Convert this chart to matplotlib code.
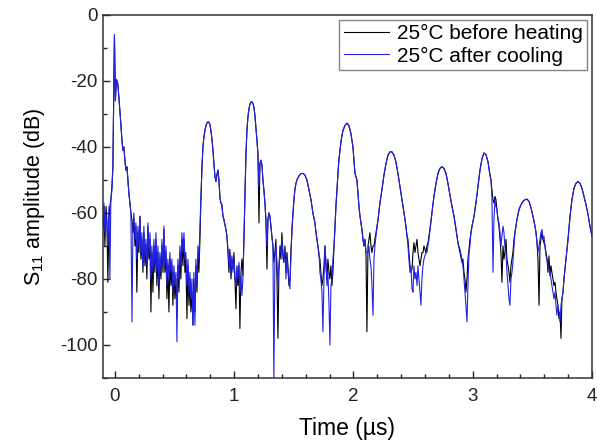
import numpy as np
import matplotlib
matplotlib.use("Agg")
import matplotlib.pyplot as plt
from matplotlib.ticker import MultipleLocator

plt.rcParams['font.family'] = ['Liberation Sans', 'DejaVu Sans']
plt.rcParams['mathtext.fontset'] = 'custom'
plt.rcParams['mathtext.rm'] = 'Liberation Sans'
plt.rcParams['mathtext.it'] = 'Liberation Sans:italic'
plt.rcParams['axes.unicode_minus'] = False

# ---------------- data (time in us, S11 in dB) ----------------
# segment 1: pre-pulse and main reflection
t1 = [-0.101, -0.092, -0.084, -0.075, -0.067, -0.059, -0.050, -0.042, -0.034, -0.025,
      -0.017, -0.008, -0.004, 0.004, 0.013, 0.025, 0.042, 0.050, 0.059, 0.067,
      0.075, 0.084, 0.092, 0.101, 0.109, 0.117, 0.126, 0.134, 0.143, 0.151]
before1 = [-66, -58, -70, -58, -62, -81, -62, -58, -56, -52,
           -46, -18, -6, -26, -19.5, -21, -29, -33, -38, -41,
           -40, -44, -47, -46, -50, -54, -57, -60, -62, -66]
after1 = [-62, -57, -66, -60, -64, -70, -58, -80, -56, -53,
          -46, -18, -6, -26, -19.5, -21, -29, -33, -38, -41,
          -40, -44, -47, -46, -50, -54, -57, -60, -93, -64]

# segment 2: noisy floor
t2 = [0.159, 0.168, 0.176, 0.184, 0.193, 0.201, 0.210, 0.218, 0.226, 0.235,
      0.243, 0.252, 0.260, 0.268, 0.277, 0.285, 0.294, 0.302, 0.310, 0.319,
      0.327, 0.335, 0.344, 0.352, 0.361, 0.369, 0.377, 0.386, 0.394, 0.403,
      0.411, 0.419, 0.428, 0.436, 0.444, 0.453, 0.461, 0.470, 0.478, 0.486,
      0.495, 0.503, 0.512, 0.520, 0.528, 0.537, 0.545, 0.553, 0.562, 0.570,
      0.579, 0.587, 0.595, 0.604, 0.612, 0.621, 0.629, 0.637, 0.646, 0.654,
      0.662, 0.671, 0.679, 0.688, 0.696, 0.704, 0.713]
before2 = [-62, -70, -64, -84, -66, -72, -61, -74, -68, -78,
           -66, -76, -70, -80, -64, -74, -68, -90, -72, -84,
           -70, -78, -68, -82, -72, -86, -74, -80, -70, -78,
           -65, -78, -72, -86, -76, -90, -74, -82, -76, -88,
           -78, -86, -80, -92, -76, -84, -72, -80, -68, -76,
           -68, -78, -74, -92, -76, -88, -80, -90, -84, -94,
           -80, -90, -76, -84, -72, -78, -68]
after2 = [-60, -68, -63, -74, -64, -70, -61, -72, -66, -76,
          -64, -74, -68, -76, -63, -72, -66, -80, -70, -78,
          -68, -76, -66, -78, -70, -82, -72, -78, -68, -76,
          -64, -76, -70, -82, -74, -80, -72, -78, -74, -84,
          -76, -82, -78, -99, -74, -80, -70, -76, -66, -72,
          -66, -74, -72, -82, -74, -84, -78, -86, -80, -94,
          -78, -94, -74, -82, -70, -74, -64]

# segment 3: first echo
t3 = [0.721, 0.730, 0.738, 0.746, 0.755, 0.763, 0.771, 0.780, 0.788, 0.797,
      0.805, 0.813, 0.822, 0.830, 0.839, 0.847, 0.855, 0.864, 0.872, 0.881,
      0.889, 0.897, 0.906, 0.914, 0.922, 0.931, 0.939, 0.948]
before3 = [-56, -46, -40, -37, -35, -33.6, -32.8, -32.4, -32.5, -33.2,
           -35, -37.5, -41, -45, -49, -50.5, -48.5, -47, -50, -55.5,
           -57, -57.5, -61, -62, -63.5, -65, -67, -72]
after3 = [-56, -46, -40, -37, -35, -33.6, -32.8, -32.4, -32.5, -33.2,
          -35, -37.5, -41, -45, -49, -50.5, -48.5, -47, -50, -55.5,
          -57, -57.5, -61, -62, -63.5, -65, -67, -71]

# segment 4
t4 = [0.956, 0.964, 0.973, 0.981, 0.990, 0.998, 1.006, 1.015, 1.023, 1.031,
      1.040, 1.048, 1.057, 1.065, 1.073]
before4 = [-78, -71, -80, -74, -77, -72, -80, -89, -76, -82, -76, -95, -78, -74, -79]
after4 = [-76, -72, -78, -73, -78, -74, -79, -82, -77, -80, -75, -84, -79, -85, -80]

# segment 5: second echo
t5 = [1.082, 1.090, 1.099, 1.107, 1.115, 1.124, 1.132, 1.140, 1.149, 1.157,
      1.166, 1.174, 1.182, 1.191, 1.199, 1.208, 1.216, 1.224, 1.233, 1.241,
      1.249, 1.258, 1.266, 1.275, 1.283, 1.291, 1.300, 1.308, 1.316, 1.325,
      1.333, 1.342, 1.350, 1.359, 1.367, 1.375, 1.384, 1.392, 1.400, 1.409,
      1.417, 1.426, 1.434, 1.442, 1.451, 1.459, 1.468, 1.476, 1.484]
before5 = [-68, -55, -42, -35, -31, -28.5, -27, -26.4, -26.3, -26.8,
           -28, -30.5, -34, -38, -42, -63, -45, -44, -45.5, -50,
           -53, -57, -62, -77, -62, -60, -61, -64, -67, -70,
           -75, -72, -68, -80, -98, -78, -70, -74, -66, -72,
           -75, -70, -78, -72, -76, -82, -80, -72, -65]
after5 = [-68, -55, -42, -35, -31, -28.5, -27, -26.4, -26.3, -26.8,
          -28, -30.5, -34, -38, -42, -52, -45, -44, -45.5, -50,
          -53, -57, -62, -70, -62, -60, -61, -64, -67, -70,
          -111, -72, -70, -75, -82, -76, -72, -71, -68, -74,
          -73, -71, -80, -73, -78, -80, -83, -72, -66]

# segment 6: third echo
t6 = [1.493, 1.501, 1.509, 1.518, 1.526, 1.543, 1.560, 1.577, 1.593, 1.610,
      1.627, 1.644, 1.660, 1.677, 1.686, 1.694,
      1.702, 1.711, 1.719, 1.727, 1.736, 1.744, 1.753, 1.761, 1.769, 1.778,
      1.786, 1.795, 1.803, 1.811, 1.820, 1.828, 1.837, 1.845]
before6 = [-60, -56, -53, -51, -50, -48.8, -48.1, -48, -48.5, -50,
           -53, -56, -60, -63, -66, -68,
           -70, -73, -74, -78, -82, -80, -76, -70, -76, -80,
           -74, -78, -80, -76, -82, -78, -70, -64]
after6 = [-60, -56, -53, -51, -50, -48.8, -48.1, -48, -48.5, -50,
          -53, -56, -60, -63, -66, -68,
          -70, -72, -78, -80, -84, -96, -80, -70, -74, -82,
          -78, -88, -100, -82, -80, -74, -70, -65]

# segment 7: fourth echo
t7 = [1.853, 1.862, 1.870, 1.878, 1.887, 1.895, 1.904, 1.912, 1.929, 1.946,
      1.962, 1.979, 1.996, 2.004, 2.013, 2.021, 2.029, 2.038, 2.046, 2.055,
      2.063, 2.071, 2.080, 2.088, 2.096, 2.105, 2.113, 2.122, 2.130, 2.138,
      2.147, 2.155, 2.164, 2.172, 2.180, 2.189]
before7 = [-58, -53, -48, -44, -41, -38.5, -36.5, -35, -33.5, -32.8,
           -33.5, -36, -40, -44, -48, -49, -50, -54, -58, -61,
           -63, -65, -68, -70, -68, -72, -96, -70, -68, -66,
           -70, -72, -70, -70, -68, -66]
after7 = [-58, -53, -48, -44, -41, -38.5, -36.5, -35, -33.5, -32.8,
          -33.5, -36, -40, -44, -48, -49, -50, -54, -58, -61,
          -63, -65, -68, -70, -68, -72, -72, -72, -70, -74,
          -76, -82, -91, -74, -70, -67]

# segment 8: fifth echo
t8 = [2.206, 2.222, 2.239, 2.256, 2.273, 2.289, 2.306, 2.323, 2.340, 2.356,
      2.373, 2.390, 2.407, 2.424,
      2.440, 2.449, 2.457, 2.465, 2.474, 2.482, 2.491, 2.499, 2.507, 2.516,
      2.524, 2.533, 2.541, 2.549, 2.558, 2.566, 2.574, 2.583, 2.591,
      2.608, 2.616, 2.625, 2.633, 2.642]
before8 = [-62, -57, -53, -48.5, -45, -42.5, -41.5, -41.5, -42.5, -44.5,
           -48, -52, -56, -60,
           -64, -67, -68, -72, -76, -78, -77, -72, -69, -72,
           -70, -68, -72, -74, -76, -74, -72, -72, -70,
           -72, -70, -69, -67, -65]
after8 = [-62, -57, -53, -48.5, -45, -42.5, -41.5, -41.5, -42.5, -44.5,
          -48, -52, -56, -60,
          -64, -67, -70, -74, -78, -76, -83, -84, -76, -80,
          -78, -82, -76, -80, -84, -88, -80, -76, -74,
          -72, -72, -70, -68, -65]

# segment 9: sixth echo
t9 = [2.658, 2.675, 2.692, 2.709, 2.725, 2.742, 2.759, 2.776, 2.792, 2.809,
      2.826, 2.843, 2.860, 2.876, 2.893, 2.910,
      2.918, 2.927, 2.935, 2.943, 2.952, 2.960, 2.969, 2.977, 2.985, 2.994]
before9 = [-60, -55, -51, -48, -46.5, -46, -46.5, -48, -51, -54.5,
           -58, -61, -65, -69, -72, -75,
           -74, -78, -80, -84, -80, -74, -71, -68, -66, -64]
after9 = [-60, -55, -51, -48, -46.5, -46, -46.5, -48, -51, -54.5,
          -58, -61, -65, -69, -71, -74,
          -76, -80, -84, -88, -93, -82, -72, -70, -66, -64]

# segment 10: seventh echo
t10 = [3.011, 3.027, 3.044, 3.061, 3.078, 3.094, 3.111, 3.128, 3.145,
       3.153, 3.161, 3.170, 3.178, 3.187, 3.195, 3.203, 3.212, 3.220, 3.229,
       3.237, 3.245, 3.254, 3.262, 3.270, 3.279, 3.287, 3.296, 3.304, 3.312,
       3.321, 3.329, 3.337, 3.346, 3.354]
before10 = [-61, -57, -52, -47, -43.5, -41.8, -42.3, -44.5, -48.5,
            -50, -53, -56, -57, -55, -56, -59, -62, -64, -68,
            -72, -81, -70, -74, -72, -68, -74, -76, -78, -81,
            -76, -74, -72, -68, -66]
after10 = [-61, -57, -52, -47, -43.5, -41.8, -42.3, -44.5, -48.5,
           -50, -55, -78, -62, -56, -58, -59, -62, -63, -66,
           -70, -67, -64, -66, -70, -72, -78, -82, -86, -88,
           -80, -78, -75, -70, -66]

# segment 11: eighth and ninth echoes
t11 = [3.371, 3.388, 3.405, 3.421, 3.438, 3.455, 3.472, 3.489, 3.505, 3.522,
       3.531, 3.539, 3.547, 3.556, 3.564, 3.572, 3.581, 3.589, 3.597, 3.606,
       3.614, 3.623, 3.631, 3.639, 3.648, 3.656, 3.664, 3.673, 3.681, 3.690,
       3.698, 3.706, 3.715, 3.723, 3.732, 3.740, 3.748, 3.757, 3.765,
       3.782, 3.799, 3.816, 3.832, 3.849, 3.866, 3.883, 3.899, 3.916, 3.933,
       3.950, 3.967, 3.983, 4.000]
before11 = [-62, -59, -57.5, -56.5, -56, -55.8, -56.5, -58.5, -61, -64,
            -66, -69, -74, -88, -70, -68, -66, -68, -69, -70,
            -72, -74, -78, -73, -79, -76, -78, -80, -82, -81,
            -84, -86, -88, -92, -90, -98, -86, -84, -80,
            -74, -68, -61, -56, -52.5, -51, -50.5, -51, -52.5, -55,
            -57.5, -60.5, -64, -67]
after11 = [-62, -59, -57.5, -56.5, -56, -55.8, -56.5, -58.5, -61, -64,
           -66, -69, -72, -70, -68, -66, -65, -68, -67, -70,
           -73, -74, -76, -77, -78, -80, -82, -84, -86, -84,
           -88, -91, -88, -90, -93, -88, -86, -84, -80,
           -74, -68, -61, -56, -52.5, -51, -50.5, -51, -52.5, -55,
           -57.5, -60.5, -64, -67]

time_us = np.concatenate([t1, t2, t3, t4, t5, t6, t7, t8, t9, t10, t11])
before_heating = np.concatenate([before1, before2, before3, before4, before5, before6,
                                 before7, before8, before9, before10, before11])
after_cooling = np.concatenate([after1, after2, after3, after4, after5, after6,
                                after7, after8, after9, after10, after11])

labels = ["25\u00b0C before heating", "25\u00b0C after cooling"]

# ---------------- figure ----------------
fig = plt.figure(figsize=(5.97, 4.40), dpi=100)
ax = fig.add_axes([0.1725, 0.141, 0.8191, 0.825])

ax.plot(time_us, before_heating, color='black', lw=0.8, label=labels[0])
ax.plot(time_us, after_cooling, color='#2323e6', lw=0.8, label=labels[1])

ax.set_xlim(-0.1, 4.0)
ax.set_ylim(-110, 0)
ax.xaxis.set_major_locator(MultipleLocator(1))
ax.xaxis.set_minor_locator(MultipleLocator(0.2))
ax.yaxis.set_major_locator(MultipleLocator(20))
ax.yaxis.set_minor_locator(MultipleLocator(10))

ax.tick_params(which='both', direction='in', top=False, right=False,
               labelsize=13.5, width=1.0, colors='#222222')
ax.tick_params(which='major', length=5)
ax.tick_params(which='minor', length=3)
ax.tick_params(axis='x', pad=7)
ax.tick_params(axis='y', pad=4)
for sp in ax.spines.values():
    sp.set_linewidth(1.1)
    sp.set_color('#333333')

ax.set_xlabel("Time (\u00b5s)", fontsize=16.5, labelpad=9)
ax.set_ylabel("S$_\\mathregular{11}$ amplitude (dB)", fontsize=15.5, labelpad=9)

leg = ax.legend(loc='upper right', fontsize=15, frameon=True, fancybox=False,
                handlelength=2.2, handletextpad=0.35, borderpad=0.2,
                labelspacing=0.15, borderaxespad=0.25)
leg.get_frame().set_edgecolor('#666666')
leg.get_frame().set_linewidth(1.0)

fig.savefig("out.png", dpi=100)
